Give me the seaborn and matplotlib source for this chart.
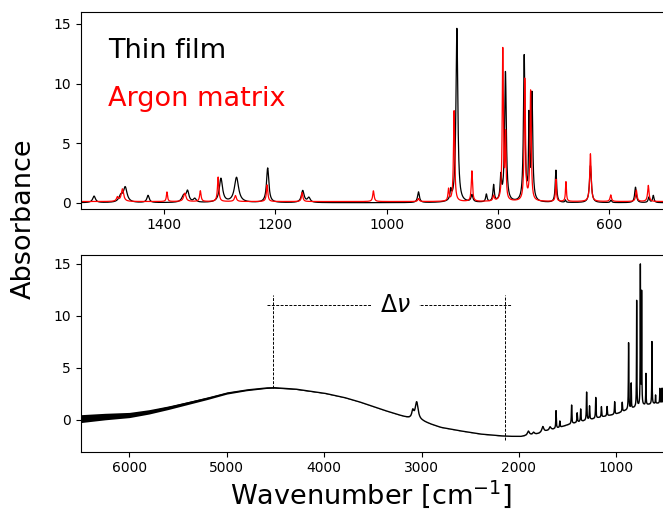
import numpy as np
import pandas as pd
import matplotlib
matplotlib.use("Agg")
import matplotlib.pyplot as plt
import seaborn as sns

# ---- Top panel: baseline-corrected fingerprint region (cm^-1, absorbance, half-width) ----
film_pos = [1526, 1478, 1470, 1429, 1365, 1358, 1345, 1298, 1270, 1214, 1151, 1140,
            943, 885, 874, 847, 821, 808, 795, 786.7, 753, 744.5, 739, 696, 679,
            634, 597, 553, 529, 521]
film_amp = [0.55, 0.5, 1.25, 0.6, 0.55, 0.9, 0.3, 2.0, 2.1, 2.9, 1.0, 0.4,
            0.9, 0.8, 14.6, 0.6, 0.65, 1.4, 2.0, 10.9, 12.2, 6.6, 9.0, 2.7, 0.2,
            3.1, 0.2, 1.3, 0.45, 0.6]
film_hw = [3, 4, 4, 2.5, 4, 3, 3, 3.5, 4.5, 2.5, 3, 3,
           2, 1.5, 2.0, 2, 1.5, 1.5, 1.5, 1.8, 1.6, 0.9, 1.6, 1.5, 1,
           2.0, 1.5, 1.8, 1.5, 1.5]
film_offset = 0.0

argon_pos = [1484, 1475, 1395, 1363, 1335, 1303, 1272, 1215, 1152, 1024, 943,
             889, 879, 847, 808, 791.5, 786.5, 752, 741.5, 696, 678, 634,
             597.5, 551.5, 530]
argon_amp = [0.35, 1.05, 0.8, 0.7, 0.9, 2.05, 0.5, 1.4, 0.75, 0.9, 0.25,
             1.0, 7.6, 2.55, 0.45, 12.7, 5.3, 10.2, 9.2, 1.85, 1.65, 4.0,
             0.55, 0.95, 1.35]
argon_hw = [2, 2.5, 1.2, 2.5, 1.5, 1.5, 2, 1.5, 1.5, 1.5, 1.5,
            1.2, 1.3, 1.3, 1.5, 1.2, 1.0, 1.3, 1.3, 1.0, 1.0, 1.5,
            1.5, 1.5, 1.5]
argon_offset = 0.1

# ---- Bottom panel: full thin-film spectrum ----
base_wn = [6500, 6250, 6000, 5800, 5600, 5400, 5200, 5000, 4800, 4600, 4520, 4300,
           4000, 3800, 3650, 3400, 3200, 3120, 2990, 2900, 2800, 2600, 2400, 2200,
           2100, 1980, 1900, 1800, 1700, 1600, 1500, 1400, 1300, 1200, 1100, 1000,
           900, 800, 700, 600, 500]
base_abs = [0.1, 0.3, 0.45, 0.75, 1.15, 1.6, 2.05, 2.55, 2.85, 3.05, 3.08, 2.95,
            2.55, 2.15, 1.75, 0.95, 0.35, 0.12, -0.15, -0.45, -0.75, -1.08, -1.38, -1.55,
            -1.6, -1.62, -1.5, -1.35, -1.05, -0.8, -0.5, -0.25, -0.05, 0.15, 0.35, 0.55,
            0.9, 1.2, 1.4, 1.55, 1.65]
# half-width of the detector-noise band at the high-wavenumber end
noise_wn = [6500, 6200, 6000, 5600, 5200, 4800, 4400, 4000, 3500, 500]
noise_amp = [0.38, 0.3, 0.25, 0.17, 0.11, 0.07, 0.04, 0.02, 0.01, 0.01]

full_pos = [3090, 3050, 1903, 1850, 1755, 1680, 1619, 1580, 1459, 1402, 1366, 1305,
            1275, 1211, 1153, 1095, 1017, 939, 874, 847, 791, 753, 740, 696,
            634, 597, 553, 530]
full_amp = [0.7, 1.7, 0.4, 0.2, 0.55, 0.3, 1.7, 0.6, 1.8, 0.9, 1.2, 2.7,
            1.3, 2.0, 1.0, 0.9, 1.2, 0.9, 6.4, 2.4, 10.2, 13.4, 10.8, 3.0,
            6.0, 0.8, 1.4, 1.4]
full_hw = [12, 18, 12, 10, 12, 10, 3, 3, 3, 3, 3, 3,
           3, 3, 3, 3, 3, 3, 2.5, 2, 2, 2, 2, 2,
           2, 2, 2, 2]

delta_left, delta_right = 4525, 2138


def lorentz_sum(wn, pos, amp, hw):
    out = np.zeros_like(wn)
    for p, a, w in zip(pos, amp, hw):
        out += a / (1.0 + ((wn - p) / w) ** 2)
    return out


sns.set_theme(style="ticks")
plt.rcParams.update({
    "font.family": ["DejaVu Sans"],
    "text.color": "black", "axes.labelcolor": "black",
    "xtick.labelsize": 10, "ytick.labelsize": 10,
    "axes.edgecolor": "black", "axes.linewidth": 0.8,
    "xtick.color": "black", "ytick.color": "black",
    "xtick.major.size": 3.5, "ytick.major.size": 3.5,
    "xtick.major.width": 0.8, "ytick.major.width": 0.8,
})

W, H = 663, 509
fig = plt.figure(figsize=(W / 100, H / 100), dpi=100)
ax_top = fig.add_axes([80.7 / W, 1 - 208.7 / H, 584.3 / W, 196.7 / H])
ax_bot = fig.add_axes([80.7 / W, 1 - 451.7 / H, 584.3 / W, 196.7 / H])

# top panel
wn_top = np.arange(1560.0, 490.0, -0.25)
top_df = pd.DataFrame({
    "wn": np.concatenate([wn_top, wn_top]),
    "A": np.concatenate([film_offset + lorentz_sum(wn_top, film_pos, film_amp, film_hw),
                         argon_offset + lorentz_sum(wn_top, argon_pos, argon_amp, argon_hw)]),
    "sample": ["Thin film"] * len(wn_top) + ["Argon matrix"] * len(wn_top),
})
sns.lineplot(data=top_df, x="wn", y="A", hue="sample",
             palette={"Thin film": "black", "Argon matrix": "red"},
             estimator=None, sort=False, lw=0.9, legend=False, ax=ax_top)
ax_top.set_xlim(1550, 500)
ax_top.set_ylim(-0.5, 16.0)
ax_top.set_xticks([1400, 1200, 1000, 800, 600])
ax_top.set_yticks([0, 5, 10, 15])
ax_top.set_xlabel("")
ax_top.set_ylabel("")
ax_top.text(0.047, 0.80, "Thin film", color="black", fontsize=19.5,
            transform=ax_top.transAxes, va="center", ha="left")
ax_top.text(0.047, 0.56, "Argon matrix", color="red", fontsize=19.5,
            transform=ax_top.transAxes, va="center", ha="left")

# bottom panel
wn_bot = np.arange(6520.0, 480.0, -0.5)
baseline = np.interp(wn_bot, base_wn[::-1], base_abs[::-1])
noise = np.interp(wn_bot, noise_wn[::-1], noise_amp[::-1])
full = baseline + lorentz_sum(wn_bot, full_pos, full_amp, full_hw)
ax_bot.fill_between(wn_bot, full - noise, full + noise, color="black", lw=0)
sns.lineplot(x=wn_bot, y=full, color="black", lw=1.0, estimator=None, sort=False, ax=ax_bot)
ax_bot.set_xlim(6500, 500)
ax_bot.set_ylim(-3.08, 15.84)
ax_bot.set_xticks([6000, 5000, 4000, 3000, 2000, 1000])
ax_bot.set_yticks([0, 5, 10, 15])

# delta-nu bracket
y_bar = 11
ax_bot.hlines(y_bar, delta_left + 65, delta_right - 65, color="black", lw=0.7, ls=(0, (3, 1.5)))
ax_bot.vlines(delta_left, np.interp(delta_left, base_wn[::-1], base_abs[::-1]), y_bar + 1,
              color="black", lw=0.7, ls=(0, (3, 1.5)))
ax_bot.vlines(delta_right, -1.95, y_bar + 1, color="black", lw=0.7, ls=(0, (3, 1.5)))
ax_bot.text((delta_left + delta_right) / 2 - 60, y_bar, r"$\Delta\nu$", fontsize=17,
            ha="center", va="center",
            bbox=dict(facecolor="white", edgecolor="none", pad=6))

fig.text(24 / W, 1 - 219 / H, "Absorbance", rotation=90, fontsize=19.5,
         ha="center", va="center")
fig.text(371 / W, 1 - 494 / H, r"Wavenumber [cm$^{-1}$]", fontsize=19.5,
         ha="center", va="center")

fig.savefig("out.png", dpi=100)
